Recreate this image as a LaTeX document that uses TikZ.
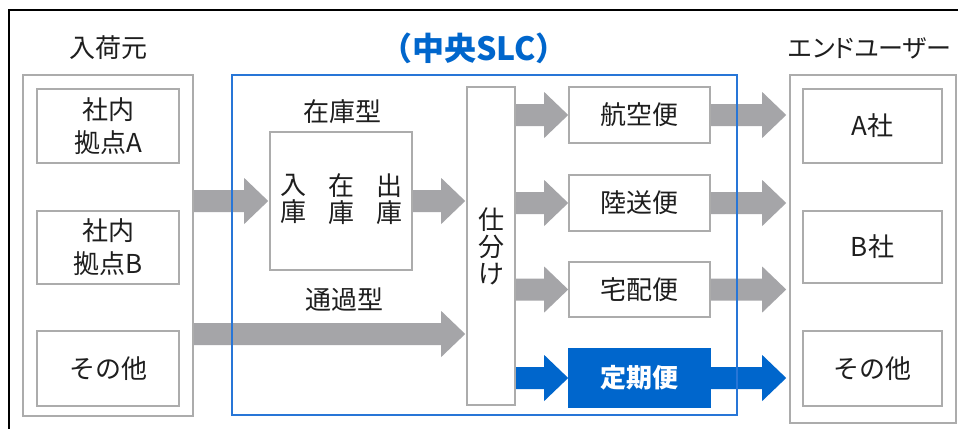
\documentclass[tikz,border=0pt]{standalone}
\usepackage{fontspec}
\setmainfont{Noto Sans CJK JP}
\usetikzlibrary{calc}
\definecolor{boxgray}{RGB}{172,172,172}
\definecolor{arrowgray}{RGB}{165,165,168}
\definecolor{slcblue}{RGB}{0,102,204}
\definecolor{slcline}{RGB}{40,118,215}
\definecolor{txt}{RGB}{30,30,30}
\newcommand{\jpfont}{\fontsize{26}{33}\selectfont}
\newcommand{\blockarrow}[3][arrowgray]{%
  \fill[#1] let \p1=(#2), \p2=(#3) in
  (\x1,{\y1+11pt}) -- ({\x2-24pt},{\y1+11pt}) -- ({\x2-24pt},{\y1+23pt}) --
  (\x2,\y1) -- ({\x2-24pt},{\y1-23pt}) -- ({\x2-24pt},{\y1-11pt}) --
  (\x1,{\y1-11pt}) -- cycle;}
\pgfdeclarelayer{bglayer}
\pgfdeclarelayer{arrowlayer}
\pgfsetlayers{bglayer,arrowlayer,main}
\tikzset{
  box/.style={draw=boxgray, line width=1.6pt, fill=white, inner sep=0pt,
    align=center, text=txt, font=\jpfont},
  outerbox/.style={draw=boxgray, line width=1.6pt, inner sep=0pt},
  label/.style={text=txt, font=\jpfont, inner sep=0pt},
  regbox/.style={draw=slcblue, line width=1.6pt, fill=slcblue, inner sep=0pt,
    text=white, font=\jpfont\bfseries},
}
\begin{document}
\begin{tikzpicture}[x=1pt, y=-1pt]
\useasboundingbox (0,0) rectangle (958,429);
\begin{pgfonlayer}{bglayer}
\fill[white] (0,0) rectangle (958,429);
\end{pgfonlayer}
% frame
\draw[line width=2.6pt, line cap=butt] (958,10) -- (9,10) -- (9,429);

% titles
\node[label] (tsrc) at (108,48) {入荷元};
\node[text=slcblue, font=\fontsize{32}{34}\selectfont\bfseries, inner sep=0pt] (tslc) at (474,48) {（中央SLC）};
\node[label, font=\fontsize{25}{30}\selectfont\addfontfeature{RawFeature=+palt}] (tend) at (870,48) {エンドユーザー};

% source side
\node[outerbox, minimum width=170, minimum height=341] (srcbox) at (108,245.5) {};
\node[box, minimum width=142, minimum height=74] (srcA) at (108,126) {社内\\拠点A};
\node[box, minimum width=142, minimum height=73] (srcB) at (108,247.5) {社内\\拠点B};
\node[box, minimum width=142, minimum height=75] (srcO) at (108,368.5) {その他};

% central SLC
\node[draw=slcline, line width=1.5pt, inner sep=0pt, minimum width=505, minimum height=340] (slc) at (484.5,245) {};
\node[label] (lstock) at (342,112) {在庫型};
\node[box, minimum width=142, minimum height=138] (stock) at (341,201) {};
\node[text=txt, font=\fontsize{26}{27}\selectfont, align=center, inner sep=0pt] (stkin) at (293,199) {入\\庫};
\node[text=txt, font=\fontsize{26}{27}\selectfont, align=center, inner sep=0pt] (stkzai) at (341,199) {在\\庫};
\node[text=txt, font=\fontsize{26}{27}\selectfont, align=center, inner sep=0pt] (stkout) at (389,199) {出\\庫};
\node[label] (lthru) at (344,300) {通過型};
\coordinate (thru) at (0,334);
\node[box, minimum width=48, minimum height=318, font=\fontsize{26}{27}\selectfont] (sort) at (491,246) {仕\\分\\け};

\node[box, minimum width=141, minimum height=56] (air) at (639.5,115) {航空便};
\node[box, minimum width=141, minimum height=56] (land) at (639.5,203) {陸送便};
\node[box, minimum width=141, minimum height=55] (home) at (639.5,289.5) {宅配便};
\node[regbox, minimum width=141, minimum height=58] (reg) at (639.5,378) {定期便};

% end users
\node[outerbox, minimum width=166, minimum height=348] (endbox) at (873,249) {};
\node[box, minimum width=139, minimum height=74] (endA) at (872.5,126) {A社};
\node[box, minimum width=139, minimum height=72] (endB) at (872.5,247) {B社};
\node[box, minimum width=139, minimum height=75] (endO) at (872.5,368.5) {その他};

\begin{pgfonlayer}{arrowlayer}
\blockarrow{srcbox.east |- stock.west}{[xshift=-1pt]stock.west}
\blockarrow{stock.east}{[xshift=-1pt]sort.west |- stock.east}
\blockarrow{srcbox.east |- thru}{[xshift=-1pt]sort.west |- thru}
\blockarrow{sort.east |- air.west}{air.west}
\blockarrow{sort.east |- land.west}{land.west}
\blockarrow{sort.east |- home.west}{home.west}
\blockarrow[slcblue]{sort.east |- reg.west}{reg.west}
\blockarrow{air.east}{[xshift=-3pt]endbox.west |- air.east}
\blockarrow{land.east}{[xshift=-3pt]endbox.west |- land.east}
\blockarrow{home.east}{[xshift=-3pt]endbox.west |- home.east}
\blockarrow[slcblue]{reg.east}{[xshift=-3pt]endbox.west |- reg.east}
\end{pgfonlayer}
\end{tikzpicture}
\end{document}
